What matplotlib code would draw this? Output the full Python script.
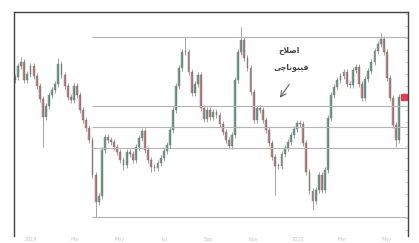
import numpy as np
import matplotlib.pyplot as plt
import matplotlib.transforms as mtransforms

# closing prices per candle
closes = [173, 184, 188, 170, 176, 184, 174, 164, 151, 133,
          144, 155, 160, 166, 186, 175, 164, 153, 150, 164,
          155, 140, 130, 122, 110, 75, 48, 54, 100, 113,
          110, 108, 103, 98, 90, 85, 98, 96, 90, 103,
          112, 119, 100, 90, 83, 82, 87, 92, 99, 105,
          120, 140, 164, 182, 198, 198, 178, 157, 166, 175,
          142, 131, 140, 133, 138, 135, 126, 118, 110, 104,
          115, 170, 198, 210, 192, 182, 158, 130, 142, 140,
          130, 120, 107, 93, 84, 84, 96, 102, 108, 115,
          121, 127, 126, 107, 78, 59, 49, 60, 75, 60,
          80, 132, 155, 163, 170, 174, 178, 166, 165, 180,
          183, 166, 152, 171, 179, 188, 199, 206, 211, 198,
          172, 152, 125, 110, 153]
first_open = 170

# extra wick extremes: index -> price
wick_low = {9: 103, 26: 33, 84: 55, 96: 40, 123: 103, 35: 80, 44: 78}
wick_high = {55: 213, 73: 223, 118: 217, 14: 192, 2: 193}

# fibonacci swing and ratios
swing_high = 213
swing_low = 33
fib_ratios = [0, 0.382, 0.5, 0.618, 1]
fib_start = 25

date_labels = ['2019', 'Mar', 'May', 'Jul', 'Sep', 'Nov', '2020', 'Mar', 'May']

opens = [first_open] + closes[:-1]
n = len(closes)
x = np.arange(n)

fig = plt.figure(figsize=(4.19, 2.43), dpi=100)
ax = fig.add_axes([14 / 419, 7 / 243, 394 / 419, 224 / 243])

up_col = '#5cae8c'
dn_col = '#d97a82'
for i in range(n):
    o, c = opens[i], closes[i]
    col = up_col if c >= o else dn_col
    hi = max(o, c) + 3
    lo = min(o, c) - 3
    hi = max(hi, wick_high.get(i, hi))
    lo = min(lo, wick_low.get(i, lo))
    ax.vlines(i, lo, hi, color='#777777', lw=0.6, alpha=0.8)
    ax.bar(i, max(abs(c - o), 0.8), bottom=min(o, c), width=0.6,
           color=col, edgecolor='#777777', linewidth=0.3)

for r in fib_ratios:
    lvl = swing_high - (swing_high - swing_low) * r
    ax.hlines(lvl, fib_start, n + 1.5, color='#b5b5b5', lw=0.8)

ax.set_xlim(-0.32, n + 1.8)
ax.set_ylim(14, 238)

# current price marker on the right axis
trans = mtransforms.blended_transform_factory(ax.transAxes, ax.transData)
ax.plot(0.99, closes[-1], marker='s', ms=4, color='#e0404a', transform=trans, clip_on=False)

# annotation
ax.text(88.5, 200, '\uFEA1\uFEFC\uFEBB\uFE8D', ha='center', va='center',
        fontsize=5.5, color='#444444', family='DejaVu Sans', fontweight='bold')
ax.text(89, 183, '\uFBFD\uFB7C\uFE8E\uFEE7\uFEEE\uFE92\uFBFF\uFED3', ha='center', va='center',
        fontsize=5.5, color='#444444', family='DejaVu Sans', fontweight='bold')
ax.annotate('', xy=(85, 150), xytext=(89, 168),
            arrowprops=dict(arrowstyle='->', lw=0.7, color='#555555'))

for s in ['left', 'top', 'right']:
    ax.spines[s].set_color('#444444')
    ax.spines[s].set_linewidth(1.0)
ax.spines['bottom'].set_visible(False)

ax.yaxis.tick_right()
ax.tick_params(axis='y', direction='in', length=2, color='#cccccc', labelright=False)
ax.set_yticks(np.arange(20, 240, 12))
ax.set_xticks(np.linspace(5, n - 5, len(date_labels)))
ax.set_xticklabels(date_labels, fontsize=3.5, color='#c8c8c8')
ax.tick_params(axis='x', length=0, pad=1)

fig.savefig('out.png', dpi=100)
